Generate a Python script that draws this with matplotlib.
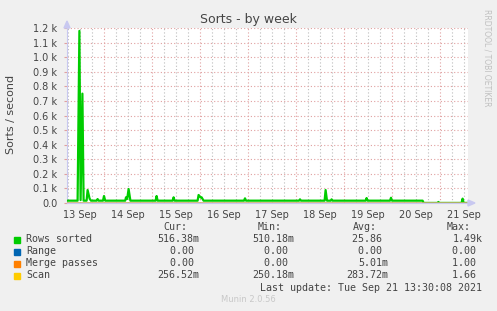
import matplotlib
matplotlib.use("Agg")
import matplotlib.pyplot as plt
from matplotlib.patches import Rectangle, Polygon

# tempo em horas desde 13 Sep 00:00
rows_h = [5.5, 10.8, 11.7, 12.3, 13.2, 13.8, 15.3, 15.8, 16.8, 17.5,
          20.3, 20.8, 21.3, 23.5, 24.0, 24.6, 34.6, 35.0, 35.6, 36.3, 37.2,
          49.8, 50.3, 50.8, 58.3, 58.8, 59.3, 70.8, 71.3, 72.3, 72.8, 73.8,
          94.0, 94.5, 95.0, 121.5, 122.0, 122.5, 134.3, 134.8, 135.5,
          137.3, 137.8, 138.3, 154.8, 155.3, 155.8, 167.0, 167.5, 168.0,
          183.3, 183.8, 190.7, 191.2, 191.7, 202.8, 203.3, 203.8, 206.0]
rows_v = [16, 16, 1180, 20, 750, 16, 16, 89, 30, 16,
          16, 27, 16, 16, 48, 16, 16, 39, 28, 96, 16,
          16, 48, 16, 16, 39, 16, 16, 55, 38, 39, 16,
          16, 32, 16, 16, 25, 16, 16, 89, 16,
          16, 25, 16, 16, 34, 16, 16, 36, 16,
          16, 0.5, 0.5, 7, 0.5, 0.5, 30, 0.5, 0.5]
range_h = [5.5, 206.0]
range_v = [0.0, 0.0]
merge_h = [5.5, 206.0]
merge_v = [0.0, 0.0]
scan_h = [5.5, 206.0]
scan_v = [0.28, 0.26]

day_labels = ["13 Sep", "14 Sep", "15 Sep", "16 Sep", "17 Sep",
              "18 Sep", "19 Sep", "20 Sep", "21 Sep"]
y_labels = ["0.0", "0.1 k", "0.2 k", "0.3 k", "0.4 k", "0.5 k", "0.6 k",
            "0.7 k", "0.8 k", "0.9 k", "1.0 k", "1.1 k", "1.2 k"]

legend_names = ["Rows sorted", "Range", "Merge passes", "Scan"]
legend_cur = ["516.38m", "0.00 ", "0.00 ", "256.52m"]
legend_min = ["510.18m", "0.00 ", "0.00 ", "250.18m"]
legend_avg = ["25.86 ", "0.00 ", "5.01m", "283.72m"]
legend_max = ["1.49k", "0.00 ", "1.00 ", "1.66 "]
colors = ["#00cc00", "#0066b3", "#ff8000", "#ffcc00"]

W, H = 497, 311
txt = "#444444"

def fx(x):
    return x / W

def fy(y):
    return 1 - y / H

fig = plt.figure(figsize=(W / 100, H / 100), dpi=100, facecolor="#f0f0f0")
ax = fig.add_axes([fx(67), fy(203), (468 - 67) / W, 175 / H])
ax.set_facecolor("white")

ax.set_xlim(5.5, 206)
ax.set_ylim(0, 1200)

# grelha
for h in range(6, 206, 6):
    if h % 24 == 0:
        ax.axvline(h, color="#e0a0a0", lw=0.8, ls=(0, (1, 2)), zorder=1)
    else:
        ax.axvline(h, color="#bdbdbd", lw=0.8, ls=(0, (1, 2)), zorder=1)
for v in range(100, 1201, 100):
    ax.axhline(v, color="#e0a0a0", lw=0.8, ls=(0, (1, 2)), zorder=1)

ax.plot(rows_h, rows_v, color=colors[0], lw=1.6, zorder=3)
ax.plot(range_h, range_v, color=colors[1], lw=1.0, zorder=3)
ax.plot(merge_h, merge_v, color=colors[2], lw=1.0, zorder=3)
ax.plot(scan_h, scan_v, color="#d8b878", lw=1.0, zorder=4)

ax.set_xticks([12 + 24 * i for i in range(len(day_labels))])
ax.set_xticklabels(day_labels, fontsize=7, color=txt)
ax.set_yticks(range(0, 1201, 100))
ax.set_yticklabels(y_labels, fontsize=7, color=txt)
ax.tick_params(axis="x", length=0, pad=5)
ax.tick_params(axis="y", length=2, color="#e0a0a0", pad=5)

for s in ["top", "right"]:
    ax.spines[s].set_visible(False)
ax.spines["left"].set_color("#c8c8f0")
ax.spines["bottom"].set_color("#c8c8f0")
ax.spines["left"].set_linewidth(0.8)
ax.spines["bottom"].set_linewidth(0.8)

# setas dos eixos
fig.add_artist(Polygon([(fx(64), fy(28)), (fx(70), fy(28)), (fx(67), fy(21))],
                       closed=True, color="#c8c8f0"))
fig.add_artist(Polygon([(fx(468), fy(200)), (fx(468), fy(206)), (fx(475), fy(203))],
                       closed=True, color="#c8c8f0"))

fig.text(fx(248), fy(19), "Sorts - by week", ha="center", va="center",
         fontsize=9, color=txt)
fig.text(fx(11), fy(114), "Sorts / second", rotation=90, ha="center",
         va="center", fontsize=8, color=txt)
fig.text(fx(487), fy(58), "RRDTOOL / TOBI OETIKER", rotation=270, ha="center",
         va="center", fontsize=5.5, color="#c0c0c0")

# legenda
mono = "DejaVu Sans Mono"
fs = 7.2
hy = 227.5
for x, t in [(163, "Cur:"), (258, "Min:"), (353, "Avg:"), (447, "Max:")]:
    fig.text(fx(x), fy(hy), t, ha="left", va="center", family=mono,
             fontsize=fs, color=txt)

for i, name in enumerate(legend_names):
    y = 239.5 + 12 * i
    fig.add_artist(Rectangle((fx(14), fy(y + 3)), 6 / W, 6 / H,
                             color=colors[i]))
    fig.text(fx(26), fy(y), name, ha="left", va="center", family=mono,
             fontsize=fs, color=txt)
    for x, vals in [(199.5, legend_cur), (294, legend_min),
                    (388, legend_avg), (482.5, legend_max)]:
        fig.text(fx(x), fy(y), vals[i], ha="right", va="center",
                 family=mono, fontsize=fs, color=txt)

fig.text(fx(482.5), fy(287.8), "Last update: Tue Sep 21 13:30:08 2021",
         ha="right", va="center", family=mono, fontsize=fs, color=txt)
fig.text(fx(248), fy(300), "Munin 2.0.56", ha="center", va="center",
         fontsize=6, color="#c8c8c8")

fig.savefig("out.png", dpi=100, facecolor=fig.get_facecolor())
